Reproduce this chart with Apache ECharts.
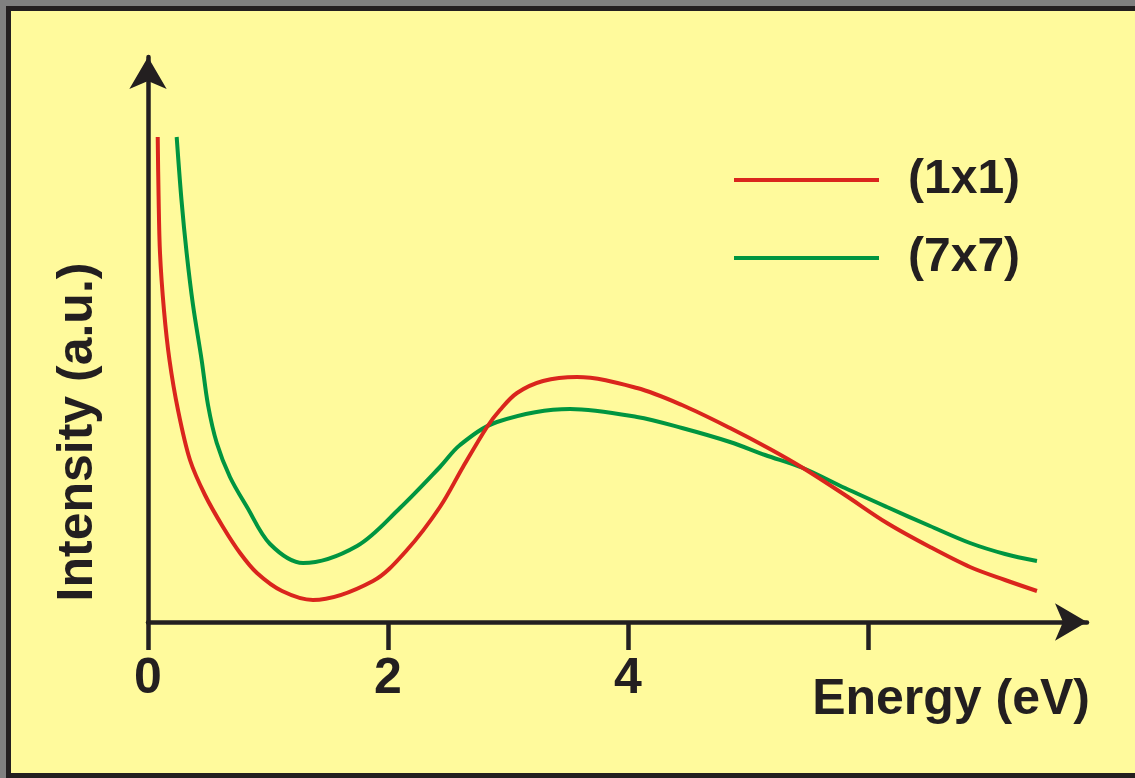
<!DOCTYPE html>
<html>
<head>
<meta charset="utf-8">
<script src="https://cdn.jsdelivr.net/npm/echarts@6/dist/echarts.min.js"></script>
<style>
  html, body { margin: 0; padding: 0; background: #808080; }
  #chart { width: 1135px; height: 778px; }
</style>
</head>
<body>
<div id="chart"></div>
<script>
// values (energy in eV, intensity in arbitrary units)
var redEnergy = [0.081, 0.088, 0.100, 0.133, 0.179, 0.250, 0.350, 0.475, 0.625, 0.767, 0.908, 1.117, 1.375,
    1.875, 2.158, 2.433, 2.625, 2.825, 2.933, 3.075, 3.292, 3.575, 4.075, 4.450, 4.850, 5.183, 5.458,
    5.808, 6.158, 6.517, 6.850, 7.142, 7.408];
var redIntensity = [97.0, 85.4, 73.8, 62.4, 52.4, 42.4, 32.4, 25.4, 19.0, 13.8, 9.8, 6.2, 4.4,
    8.2, 14.4, 23.0, 31.0, 39.0, 42.4, 45.8, 48.2, 49.0, 46.8, 43.4, 38.8, 34.6, 30.8,
    25.4, 19.8, 15.0, 11.0, 8.4, 6.2];
var greenEnergy = [0.239, 0.279, 0.322, 0.375, 0.447, 0.500, 0.573, 0.683, 0.825, 1.017, 1.292, 1.742,
    2.100, 2.433, 2.600, 2.908, 3.517, 4.075, 4.450, 4.850, 5.142, 5.458, 5.808, 6.158, 6.517, 6.850, 7.142, 7.408];
var greenIntensity = [97.0, 84.4, 73.8, 63.4, 52.4, 43.4, 35.8, 29.0, 23.0, 15.6, 11.8, 15.2,
    22.8, 31.0, 35.4, 40.0, 42.6, 41.0, 38.8, 36.0, 33.4, 30.8, 26.8, 23.0, 19.2, 15.8, 13.6, 12.2];
var seriesNames = ['(1x1)', '(7x7)'];
var tickValues = [0, 2, 4, 6];
var labelValues = [0, 2, 4];

var dark = '#231F20';
var font = '"Liberation Sans", Arial, Helvetica, sans-serif';

function pairs(xs, ys) {
    var out = [];
    for (var i = 0; i < xs.length; i++) {
        out.push([xs[i], ys[i]]);
    }
    return out;
}

var myChart = echarts.init(document.getElementById('chart'));
var option = {
    animation: false,
    backgroundColor: '#FFFA9C',
    grid: {
        left: 148,
        right: 48,
        top: 57,
        bottom: 156,
        containLabel: false
    },
    legend: {
        data: seriesNames,
        orient: 'vertical',
        left: 734,
        top: 156,
        padding: 0,
        icon: 'rect',
        itemWidth: 145,
        itemHeight: 4,
        itemGap: 30,
        textStyle: {
            color: dark,
            fontSize: 48,
            fontWeight: 'bold',
            fontFamily: font,
            padding: [0, 0, 0, 24]
        }
    },
    xAxis: {
        type: 'value',
        min: 0,
        max: 7.825,
        interval: 2,
        axisLine: {
            show: true,
            symbol: ['none', 'arrow'],
            symbolSize: [28, 32],
            lineStyle: { color: dark, width: 4.5 }
        },
        axisTick: {
            show: true,
            inside: false,
            length: 28,
            customValues: tickValues,
            lineStyle: { color: dark, width: 4.5 }
        },
        axisLabel: {
            show: true,
            customValues: labelValues,
            margin: 32,
            color: dark,
            fontSize: 50,
            fontWeight: 'bold',
            fontFamily: font
        },
        splitLine: { show: false }
    },
    yAxis: {
        type: 'value',
        min: 0,
        max: 113,
        axisLine: {
            show: true,
            symbol: ['none', 'arrow'],
            symbolSize: [28, 32],
            lineStyle: { color: dark, width: 4.5 }
        },
        axisTick: { show: false },
        axisLabel: { show: false },
        splitLine: { show: false }
    },
    graphic: [
        { type: 'rect', shape: { x: 0, y: 0, width: 1135, height: 6 }, style: { fill: '#808080' } },
        { type: 'rect', shape: { x: 0, y: 0, width: 6, height: 778 }, style: { fill: '#808080' } },
        { type: 'rect', shape: { x: 6, y: 6, width: 1129, height: 5 }, style: { fill: dark } },
        { type: 'rect', shape: { x: 6, y: 6, width: 5, height: 772 }, style: { fill: dark } },
        { type: 'rect', shape: { x: 6, y: 773, width: 1129, height: 5 }, style: { fill: dark } },
        {
            type: 'text',
            x: 1090,
            y: 700,
            style: {
                text: 'Energy (eV)',
                fill: dark,
                font: 'bold 50px ' + font,
                textAlign: 'right',
                textVerticalAlign: 'middle'
            }
        },
        {
            type: 'text',
            x: 78,
            y: 432,
            rotation: Math.PI / 2,
            style: {
                text: 'Intensity (a.u.)',
                fill: dark,
                font: 'bold 50px ' + font,
                textAlign: 'center',
                textVerticalAlign: 'middle'
            }
        }
    ],
    series: [
        {
            name: seriesNames[1],
            type: 'line',
            smooth: 0.33,
            showSymbol: false,
            data: pairs(greenEnergy, greenIntensity),
            itemStyle: { color: '#009540' },
            lineStyle: { color: '#009540', width: 4 }
        },
        {
            name: seriesNames[0],
            type: 'line',
            smooth: 0.33,
            showSymbol: false,
            data: pairs(redEnergy, redIntensity),
            itemStyle: { color: '#DA251D' },
            lineStyle: { color: '#DA251D', width: 4 }
        }
    ]
};
myChart.setOption(option);
</script>
</body>
</html>
